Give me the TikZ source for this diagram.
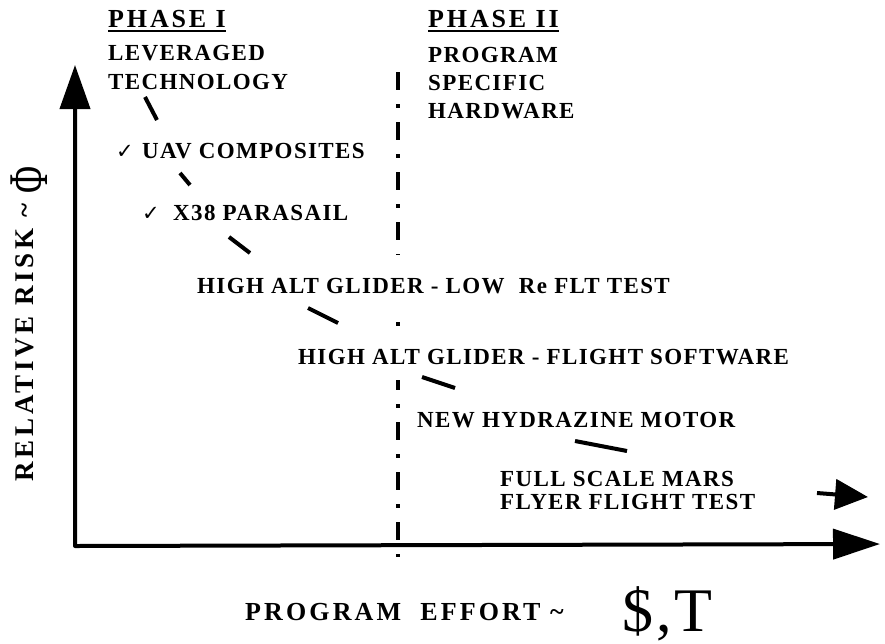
\documentclass[tikz,border=0pt]{standalone}
\usepackage{fontspec}
\usepackage{graphicx}
\setmainfont{Liberation Serif}
\newfontfamily\simbolos{DejaVu Sans}
\usetikzlibrary{arrows.meta}

\tikzset{
  txt/.style={anchor=base west, inner sep=0pt, font=\fontsize{23}{26}\selectfont\bfseries\addfontfeature{LetterSpace=6}},
  fase/.style={txt, font=\fontsize{26}{28}\selectfont\bfseries\addfontfeature{LetterSpace=11}},
  chk/.style={anchor=base west, inner sep=0pt, font=\fontsize{21}{24}\selectfont\simbolos},
  tapa/.style={txt, fill=white, inner ysep=14pt, text height=24pt, text depth=2pt},
  ejelbl/.style={txt, font=\fontsize{26}{28}\selectfont\bfseries\addfontfeature{LetterSpace=12}},
  tramo/.style={line width=4pt},
  eje/.style={line width=4pt, line join=round},
}

\begin{document}
\begin{tikzpicture}[x=1pt, y=-1pt]
  % Marco
  \useasboundingbox (0,0) rectangle (885,643);

  % Separacion de fases
  \draw[line width=4pt, dash pattern=on 18pt off 14pt on 4pt off 14pt] (398,72) -- (398,557);

  % Fase I
  \node[fase] (fase1) at (108,27) {PHASE I};
  \draw[line width=1.6pt] ([yshift=-4pt]fase1.base west) -- ([yshift=-4pt]fase1.base east);
  \node[txt] (lev) at (108,60) {LEVERAGED};
  \node[txt] (tec) at (108,89) {TECHNOLOGY};

  % Fase II
  \node[fase] (fase2) at (428,27) {PHASE II};
  \draw[line width=1.6pt] ([yshift=-4pt]fase2.base west) -- ([yshift=-4pt]fase2.base east);
  \node[txt] (prog) at (428,62) {PROGRAM};
  \node[txt] (espec) at (428,90) {SPECIFIC};
  \node[txt] (hard) at (428,118) {HARDWARE};

  % Pasos
  \node[chk] (chk1) at (116,158) {✓};
  \node[txt] (uav) at (142,158) {UAV COMPOSITES};
  \node[chk] (chk2) at (142,220) {✓};
  \node[txt] (x38) at (173,220) {X38 PARASAIL};
  \node[tapa] (baja) at (197,293) {HIGH ALT GLIDER - LOW\ \ Re FLT TEST};
  \node[tapa] (soft) at (298,364) {HIGH ALT GLIDER - FLIGHT SOFTWARE};
  \node[txt] (hidra) at (417,427) {NEW HYDRAZINE MOTOR};
  \node[txt] (mars) at (500,486) {FULL SCALE MARS};
  \node[txt] (vuelo) at (500,509) {FLYER FLIGHT TEST};

  % Tramos entre pasos
  \draw[tramo] (145,97) -- (157,120);
  \draw[tramo] (180,173) -- (190,185);
  \draw[tramo] (229,237) -- (250,253);
  \draw[tramo] (308,308) -- (338,323);
  \draw[tramo] (422,377) -- (455,388);
  \draw[tramo] (575,441) -- (627,451);
  \draw[tramo, -{Triangle[length=33pt, width=30pt]}] (817,493) -- (868,497);

  % Ejes
  \draw[eje, {Triangle[length=44pt, width=30pt]}-{Triangle[length=47pt, width=30pt]}] (75,65) -- (75,546) -- (880,544);

  % Etiquetas de ejes
  \node[ejelbl, rotate=90, font=\fontsize{27}{28}\selectfont\bfseries\addfontfeature{LetterSpace=14}] (riesgo) at (33,482) {RELATIVE RISK \textasciitilde\ \raisebox{-14pt}{\fontsize{56}{56}\selectfont\mdseries\scalebox{0.66}[1]{Φ}}};
  \node[ejelbl] (esfuerzo) at (245,620) {PROGRAM\ \ EFFORT \textasciitilde};
  \node[txt, font=\fontsize{62}{62}\selectfont\addfontfeature{LetterSpace=5}] (costo) at (622,631) {\$,T};
\end{tikzpicture}
\end{document}
